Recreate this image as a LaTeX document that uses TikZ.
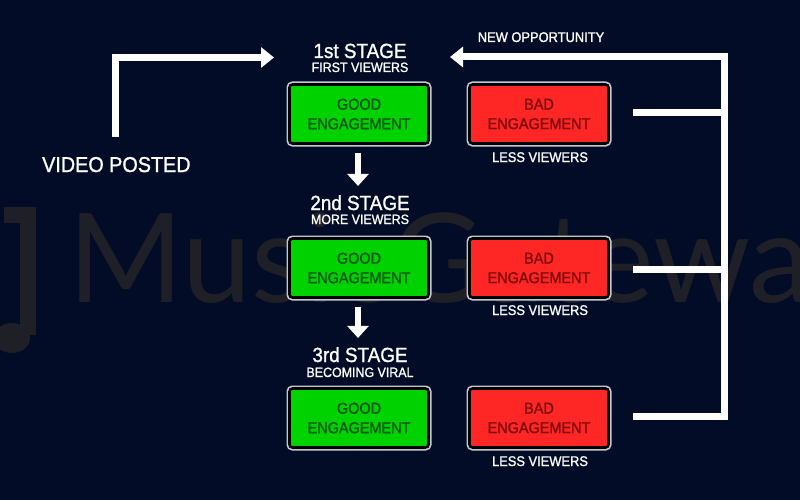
\documentclass[tikz,border=0pt]{standalone}
\usepackage{fontspec}
\setmainfont{Liberation Sans}[FakeStretch=0.92, FakeBold=1.2]
\newfontfamily\boxfont{Liberation Sans}[FakeStretch=0.92, FakeBold=1.6]
\newfontfamily\wmfont{Lato}
\usetikzlibrary{arrows.meta,calc}
\definecolor{bg}{HTML}{020C26}
\definecolor{wm}{HTML}{1F2027}
\definecolor{goodfill}{HTML}{00D200}
\definecolor{badfill}{HTML}{FF2626}
\definecolor{goodtxt}{HTML}{0B5A10}
\definecolor{badtxt}{HTML}{820C0C}
\definecolor{edge}{HTML}{C4C6D0}
\tikzset{
  box/.style={minimum width=139pt, minimum height=59pt, rounded corners=3pt,
    preaction={draw=edge, line width=6pt}, draw=black, line width=2.6pt,
    align=center, font=\boxfont\fontsize{15.7}{19.5}\selectfont, inner sep=0pt},
  goodbox/.style={box, fill=goodfill, text=goodtxt},
  badbox/.style={box, fill=badfill, text=badtxt},
  stagetitle/.style={anchor=base, text=white, font=\fontsize{20.5}{20.5}\selectfont, inner sep=0pt},
  stagesub/.style={anchor=base, text=white, font=\fontsize{13.5}{13.5}\selectfont, inner sep=0pt},
  lesstxt/.style={anchor=base, text=white, font=\fontsize{14}{14}\selectfont, inner sep=0pt},
  wline/.style={draw=white, line width=7pt},
  warrow/.style={draw=white, line width=7pt, -{Triangle[length=13pt,width=20pt]}},
  darrow/.style={draw=white, line width=6pt, -{Triangle[length=12pt,width=21pt]}},
}
\begin{document}
\begin{tikzpicture}[x=1pt,y=-1pt]
\fill[bg] (0,0) rectangle (800,500);
\useasboundingbox (0,0) rectangle (800,500);
% watermark
\begin{scope}
  \clip (0,0) rectangle (800,500);
  \draw[wm, line width=16pt] (4,215) -- (28,215) -- (28,335);
  \fill[wm] (12,338) ellipse (18pt and 15pt);
  \node[anchor=base west, text=wm, inner sep=0pt, font=\fontsize{124}{124}\selectfont\wmfont] (wmark) at (68,302) {MusicGateway};
\end{scope}

% boxes
\node[goodbox] (g1) at (359,114) {GOOD\\ENGAGEMENT};
\node[badbox]  (b1) at (539,114) {BAD\\ENGAGEMENT};
\node[goodbox] (g2) at (359,268) {GOOD\\ENGAGEMENT};
\node[badbox]  (b2) at (539,268) {BAD\\ENGAGEMENT};
\node[goodbox] (g3) at (359,418) {GOOD\\ENGAGEMENT};
\node[badbox]  (b3) at (539,418) {BAD\\ENGAGEMENT};

% stage titles
\node[stagetitle] (s1) at (360,58) {1st STAGE};
\node[stagesub] (s1sub) at (360,72) {FIRST VIEWERS};
\node[stagetitle] (s2) at (360,210) {2nd STAGE};
\node[stagesub] (s2sub) at (360,224) {MORE VIEWERS};
\node[stagetitle] (s3) at (360,362) {3rd STAGE};
\node[stagesub] (s3sub) at (360,377) {BECOMING VIRAL};

% less viewers
\node[lesstxt] (l1) at (540,162) {LESS VIEWERS};
\node[lesstxt] (l2) at (540,315) {LESS VIEWERS};
\node[lesstxt] (l3) at (540,466) {LESS VIEWERS};

% other labels
\node[lesstxt] (newopp) at (541,42) {NEW OPPORTUNITY};
\node[anchor=base west, text=white, inner sep=0pt, font=\fontsize{21.5}{21.5}\selectfont] (vp) at (42,172) {VIDEO POSTED};

% left arrow
\coordinate (vpstart) at (115,137);
\coordinate (vpcorner) at (115,57.5);
\coordinate (vpend) at (274,57.5);
\draw[warrow, line join=miter] (vpstart) -- (vpcorner) -- (vpend);

% down arrows
\draw[darrow] ($(g1.south)+(-1,8)$) -- ($(s2.north)+(-2,-9)$);
\draw[darrow] ($(g2.south)+(-1,8)$) -- ($(s3.north)+(-2,-9)$);

% right bracket
\coordinate (rtop) at (724.5,57);
\coordinate (rbot) at (724.5,416);
\coordinate (st1) at (633,113);
\coordinate (st2) at (633,269);
\coordinate (st3) at (633,416);
\coordinate (oppend) at (450,57);
\draw[warrow, line join=miter] (rbot) -- (rtop) -- (oppend);
\draw[wline] (st1) -- (rtop |- st1);
\draw[wline] (st2) -- (rtop |- st2);
\draw[wline, line join=miter] (st3) -- (rbot) -- ++(0,-10);
\end{tikzpicture}
\end{document}
